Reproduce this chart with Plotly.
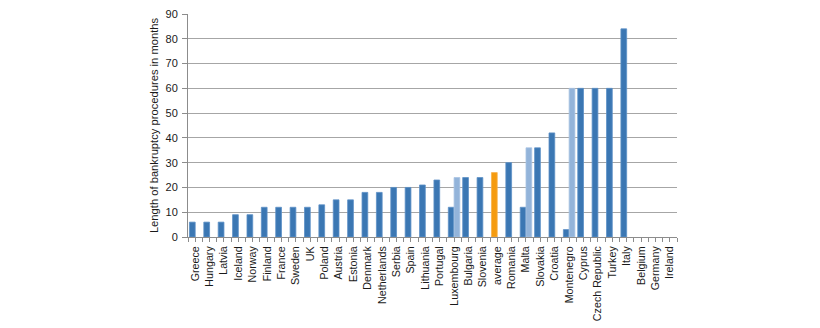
import plotly.graph_objects as go

countries = ["Greece", "Hungary", "Latvia", "Iceland", "Norway", "Finland", "France",
             "Sweden", "UK", "Poland", "Austria", "Estonia", "Denmark", "Netherlands",
             "Serbia", "Spain", "Lithuania", "Portugal", "Luxembourg", "Bulgaria",
             "Slovenia", "average", "Romania", "Malta", "Slovakia", "Croatia",
             "Montenegro", "Cyprus", "Czech Republic", "Turkey", "Italy", "Belgium",
             "Germany", "Ireland"]
min_months = [6, 6, 6, 9, 9, 12, 12, 12, 12, 13, 15, 15, 18, 18, 20, 20, 21, 23, 12, 24,
              24, 26, 30, 12, 36, 42, 3, 60, 60, 60, 84, 0, 0, 0]
max_months = [None, None, None, None, None, None, None, None, None, None, None, None,
              None, None, None, None, None, None, 24, None, None, None, None, 36, None,
              None, 60, None, None, None, None, None, None, None]
y_ticks = [0, 10, 20, 30, 40, 50, 60, 70, 80, 90]

DARK = "#3b77b3"
DARK_EDGE = "#5d90c6"
LIGHT = "#93b4da"
LIGHT_EDGE = "#a9c4e3"
ORANGE = "#f59b0f"
ORANGE_EDGE = "#f7b14a"

xpos = list(range(len(countries)))
dark_colors = [ORANGE if c == "average" else DARK for c in countries]
dark_edges = [ORANGE_EDGE if c == "average" else DARK_EDGE for c in countries]
dark_edge_w = [0.8 if v else 0 for v in min_months]

fig = go.Figure()
fig.add_trace(go.Bar(x=xpos, y=min_months, marker=dict(color=dark_colors,
                     line=dict(color=dark_edges, width=dark_edge_w)), showlegend=False))
fig.add_trace(go.Bar(x=xpos, y=max_months, marker=dict(color=LIGHT,
                     line=dict(color=LIGHT_EDGE, width=0.8)), showlegend=False))

fig.update_layout(
    width=820, height=328,
    margin=dict(l=188, r=143, t=14, b=91, pad=0),
    paper_bgcolor="white", plot_bgcolor="white",
    barmode="group", bargap=0.2, bargroupgap=0,
    font=dict(family="Liberation Sans, Arial, sans-serif", size=11, color="#222222"),
)
fig.update_xaxes(
    automargin=False,
    range=[-0.5, len(countries) - 0.5],
    tickmode="array", tickvals=xpos, ticktext=countries, tickangle=-90,
    ticks="outside", ticklen=4, tickcolor="#8c8c8c", tickwidth=1,
    minor=dict(tickmode="linear", tick0=-0.5, dtick=1, ticks="outside", ticklen=4,
               tickcolor="#8c8c8c", tickwidth=1, showgrid=False),
    showline=True, linecolor="#8c8c8c", linewidth=1,
    showgrid=False, zeroline=False,
    tickfont=dict(size=10.7, color="#1a1a1a"),
)
fig.update_yaxes(
    automargin=False,
    range=[0, 90], tickvals=y_ticks,
    ticks="outside", ticklen=5, tickcolor="#8c8c8c", tickwidth=1,
    showline=True, linecolor="#8c8c8c", linewidth=1,
    showgrid=True, gridcolor="#a6a6a6", gridwidth=1, zeroline=False,
    ticklabelstandoff=2,
    tickfont=dict(size=11, color="#1a1a1a"),
    title=dict(text="Length of bankruptcy procedures in months",
               font=dict(size=11.2, color="#1a1a1a"), standoff=4),
)

fig.write_html("out.html")
